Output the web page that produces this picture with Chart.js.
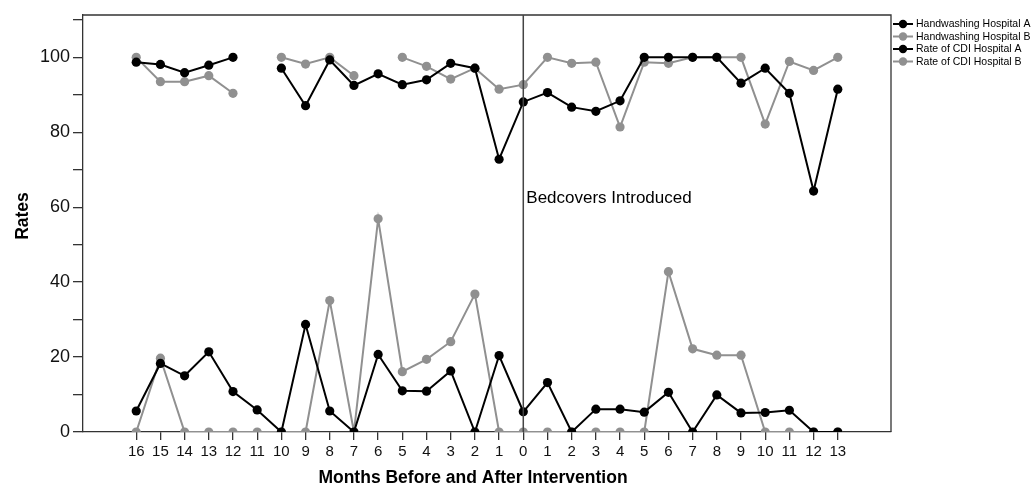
<!DOCTYPE html>
<html>
<head>
<meta charset="utf-8">
<script src="https://cdn.jsdelivr.net/npm/chart.js@4.4.1/dist/chart.umd.min.js"></script>
<style>
  body { margin: 0; background: #fff; }
  #wrap { width: 1033px; height: 488px; position: relative; }
</style>
</head>
<body>
<div id="wrap"><canvas id="chart"></canvas></div>
<script>
// months relative to the intervention (bedcovers introduced at month 0)
const monthLabels = ["16","15","14","13","12","11","10","9","8","7","6","5","4","3","2","1",
  "0","1","2","3","4","5","6","7","8","9","10","11","12","13"];

const handwashingA = [98.7, 98.1, 95.9, 97.9, 100, null, 97.1, 87.1, 99.3, 92.5, 95.6, 92.7, 94.0, 98.4, 97.1, 72.8,
  88.1, 90.6, 86.7, 85.6, 88.4, 100, 100, 100, 100, 93.1, 97.1, 90.4, 64.3, 91.5];
const handwashingB = [100, 93.5, 93.5, 95.1, 90.4, null, 100, 98.2, 100, 95.1, null, 100, 97.6, 94.2, 97.1, 91.5,
  92.7, 100, 98.4, 98.7, 81.4, 98.7, 98.4, 100, 100, 100, 82.2, 98.9, 96.5, 100];
const cdiRateA = [5.6, 18.3, 15.0, 21.4, 10.8, 5.9, 0, 28.7, 5.6, 0, 20.7, 11.0, 10.9, 16.3, 0, 20.4,
  5.4, 13.2, 0, 6.1, 6.1, 5.3, 10.6, 0, 9.9, 5.1, 5.2, 5.8, 0, 0];
const cdiRateB = [0, 19.7, 0, 0, 0, 0, 0, 0, 35.1, 0, 56.9, 16.1, 19.4, 24.1, 36.8, 0,
  0, 0, 0, 0, 0, 0, 42.8, 22.2, 20.5, 20.5, 0, 0, 0, 0];

const interventionIndex = 16;
const BLACK = "#000000";
const GREY = "#909090";
const FONT = "'Liberation Sans', Arial, sans-serif";

const toPoints = vals => vals.map((v, i) => ({ x: i, y: v }));

function series(label, vals, color) {
  return {
    label: label,
    data: toPoints(vals),
    borderColor: color,
    backgroundColor: color,
    pointBackgroundColor: color,
    pointBorderColor: color,
    pointBorderWidth: 0,
    borderWidth: 2,
    pointRadius: 4.6,
    pointHoverRadius: 4.6,
    tension: 0,
    spanGaps: false,
    clip: 0
  };
}

const framePlugin = {
  id: "frame",
  afterDatasetsDraw(chart) {
    const { ctx, chartArea: a, scales } = chart;
    ctx.save();
    ctx.strokeStyle = "#333";
    ctx.lineWidth = 1.3;
    ctx.beginPath();
    ctx.moveTo(a.left, a.top);
    ctx.lineTo(a.right, a.top);
    ctx.lineTo(a.right, a.bottom);
    ctx.stroke();

    // intervention line
    const x = scales.x.getPixelForValue(interventionIndex);
    ctx.strokeStyle = "#444";
    ctx.lineWidth = 1.5;
    ctx.beginPath();
    ctx.moveTo(x, a.top);
    ctx.lineTo(x, a.bottom);
    ctx.stroke();

    ctx.fillStyle = "#000";
    ctx.font = "17px " + FONT;
    ctx.textBaseline = "middle";
    ctx.textAlign = "left";
    ctx.fillText("Bedcovers Introduced", x + 3, scales.y.getPixelForValue(62.5));

    // axis titles
    ctx.font = "bold 17.5px " + FONT;
    ctx.textAlign = "center";
    ctx.fillText("Months Before and After Intervention", 473, 478);
    ctx.save();
    ctx.translate(23, 216);
    ctx.rotate(-Math.PI / 2);
    ctx.fillText("Rates", 0, 0);
    ctx.restore();

    // legend at the right of the frame
    const items = chart.data.datasets;
    ctx.font = "10.5px " + FONT;
    ctx.textAlign = "left";
    items.forEach((ds, i) => {
      const y = 24 + i * 12.5;
      const lx = a.right + 2;
      ctx.strokeStyle = ds.borderColor;
      ctx.lineWidth = 2;
      ctx.beginPath();
      ctx.moveTo(lx, y);
      ctx.lineTo(lx + 20, y);
      ctx.stroke();
      ctx.fillStyle = ds.borderColor;
      ctx.beginPath();
      ctx.arc(lx + 10, y, 4.2, 0, Math.PI * 2);
      ctx.fill();
      ctx.fillStyle = "#000";
      ctx.fillText(ds.label, lx + 23, y + 0.5);
    });
    ctx.restore();
  }
};

new Chart(document.getElementById("chart"), {
  type: "line",
  data: {
    datasets: [
      series("Handwashing Hospital A", handwashingA, BLACK),
      series("Handwashing Hospital B", handwashingB, GREY),
      series("Rate of CDI Hospital A", cdiRateA, BLACK),
      series("Rate of CDI Hospital B", cdiRateB, GREY)
    ]
  },
  options: {
    responsive: true,
    maintainAspectRatio: false,
    animation: false,
    layout: { padding: { top: 15, right: 142, left: 0, bottom: 0 } },
    plugins: {
      legend: { display: false },
      tooltip: { enabled: false }
    },
    scales: {
      x: {
        type: "linear",
        min: -2.2,
        max: 31.2,
        afterBuildTicks: scale => {
          scale.ticks = monthLabels.map((_, i) => ({ value: i }));
        },
        afterFit: scale => { scale.height = 56; },
        ticks: {
          autoSkip: false,
          maxRotation: 0,
          padding: 3,
          color: "#111",
          font: { family: FONT, size: 15 },
          callback: (v) => monthLabels[v]
        },
        grid: { drawOnChartArea: false, tickLength: 8, color: "#333", lineWidth: 1.3 },
        border: { color: "#333", width: 1.3 }
      },
      y: {
        min: 0,
        max: 111.3,
        afterBuildTicks: scale => {
          scale.ticks = [0, 10, 20, 30, 40, 50, 60, 70, 80, 90, 100, 110].map(v => ({ value: v }));
        },
        afterFit: scale => { scale.width = 83; },
        ticks: {
          padding: 3,
          color: "#111",
          font: { family: FONT, size: 18 },
          callback: v => (v % 20 === 0 ? v : "")
        },
        grid: { drawOnChartArea: false, tickLength: 10, color: "#333", lineWidth: 1.3 },
        border: { color: "#333", width: 1.3 }
      }
    }
  },
  plugins: [framePlugin]
});
</script>
</body>
</html>
